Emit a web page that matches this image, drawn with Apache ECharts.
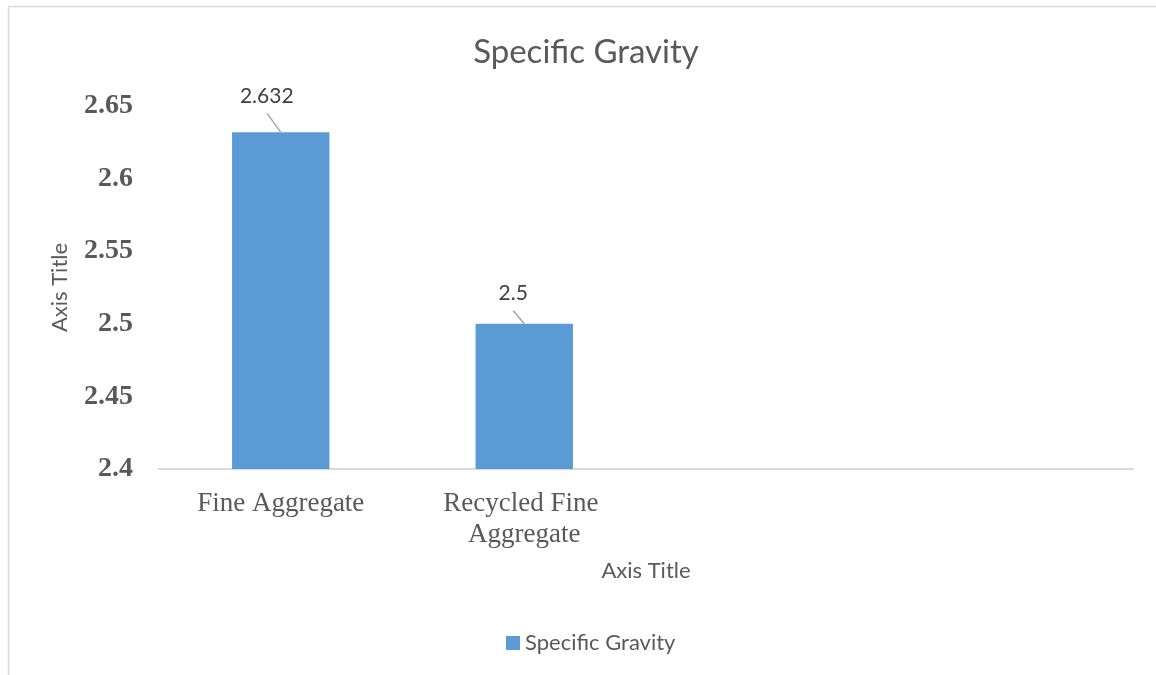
<!DOCTYPE html>
<html>
<head>
<meta charset="utf-8">
<title>Specific Gravity</title>
<script src="https://cdn.jsdelivr.net/npm/echarts@6/dist/echarts.min.js"></script>
<style>
  html, body { margin: 0; padding: 0; background: #fff; }
  #chart { width: 1156px; height: 675px; }
</style>
</head>
<body>
<div id="chart"></div>
<script>
// Specific gravity of natural vs recycled fine aggregate
const categories = ['Fine Aggregate', 'Recycled Fine Aggregate', '', ''];
const specificGravity = [2.632, 2.5, null, null];
const yTicks = { min: 2.4, max: 2.65, interval: 0.05 };
const seriesName = 'Specific Gravity';

// callout offsets of the value labels (pixels, relative to the default top label)
const labelShift = [{ dx: -14, dy: -20 }, { dx: -11, dy: -15 }];
// leader line start, relative to the bar's top-centre point (pixels)
const leaderStart = [[-13.5, -18.5], [-11, -13]];

const sans = 'Lato, "Noto Sans", sans-serif';
const serif = '"Liberation Serif", "Times New Roman", serif';
const textGray = '#595959';

const chart = echarts.init(document.getElementById('chart'), null, { renderer: 'canvas' });

chart.setOption({
  backgroundColor: '#ffffff',
  animation: false,
  title: {
    text: 'Specific Gravity',
    left: 581,
    top: 47,
    textAlign: 'center',
    textVerticalAlign: 'middle',
    textStyle: { fontFamily: sans, fontSize: 33, fontWeight: 'normal', color: textGray }
  },
  legend: {
    data: [seriesName],
    left: 506,
    top: 632,
    padding: 0,
    itemWidth: 14,
    itemHeight: 14,
    itemGap: 5,
    icon: 'rect',
    textStyle: { fontFamily: sans, fontSize: 22, color: textGray, padding: [0, 0, 0, 0] }
  },
  grid: { left: 159, right: 23, top: 106, bottom: 206 },
  xAxis: {
    type: 'category',
    data: categories,
    name: 'Axis Title',
    nameLocation: 'middle',
    nameGap: 91,
    nameTextStyle: { fontFamily: sans, fontSize: 22, color: textGray },
    axisLine: { lineStyle: { color: '#d9d9d9', width: 2 } },
    axisTick: { show: false },
    axisLabel: {
      interval: 0,
      margin: 19,
      width: 215,
      overflow: 'break',
      lineHeight: 31,
      fontFamily: serif,
      fontSize: 27,
      color: textGray
    }
  },
  yAxis: {
    type: 'value',
    min: yTicks.min,
    max: yTicks.max,
    interval: yTicks.interval,
    name: 'Axis Title',
    nameLocation: 'middle',
    nameGap: 88,
    nameRotate: 90,
    nameTextStyle: { fontFamily: sans, fontSize: 22, color: textGray },
    axisLine: { show: false },
    axisTick: { show: false },
    splitLine: { show: false },
    axisLabel: {
      margin: 26,
      fontFamily: serif,
      fontSize: 28,
      fontWeight: 'bold',
      color: textGray,
      formatter: v => String(+v.toFixed(2))
    }
  },
  series: [{
    name: seriesName,
    type: 'bar',
    data: specificGravity,
    barWidth: '40%',
    itemStyle: { color: '#5b9bd5' },
    label: {
      show: true,
      position: 'top',
      distance: 5,
      fontFamily: sans,
      fontSize: 21,
      color: '#404040',
      formatter: p => String(p.value)
    },
    labelLayout: p => labelShift[p.dataIndex] || {}
  }, {
    // leader lines from each callout down to its bar's top
    name: 'leaders',
    type: 'custom',
    silent: true,
    z: 3,
    data: specificGravity.map((v, i) => [i, v]),
    renderItem: (params, api) => {
      const v = api.value(1);
      if (v == null || isNaN(v)) return null;
      const top = api.coord([api.value(0), v]);
      const s = leaderStart[params.dataIndex];
      return {
        type: 'line',
        shape: { x1: top[0] + s[0], y1: top[1] + s[1], x2: top[0], y2: top[1] },
        style: { stroke: '#a6a6a6', lineWidth: 1.5 }
      };
    }
  }],
  graphic: [
    { type: 'line', shape: { x1: 8.5, y1: 6.5, x2: 1156, y2: 6.5 }, style: { stroke: '#d9d9d9', lineWidth: 1.5 } },
    { type: 'line', shape: { x1: 8.5, y1: 6.5, x2: 8.5, y2: 675 }, style: { stroke: '#d9d9d9', lineWidth: 1.5 } }
  ]
});
</script>
</body>
</html>
